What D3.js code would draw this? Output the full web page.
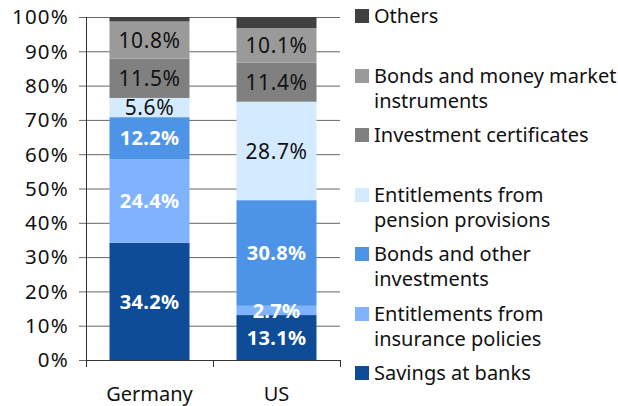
<!DOCTYPE html>
<html>
<head>
<meta charset="utf-8">
<script src="https://cdn.jsdelivr.net/npm/d3@7"></script>
<style>
  body { margin: 0; background: #fff; }
  text { font-family: "Noto Sans", "DejaVu Sans", sans-serif; }
</style>
</head>
<body>
<div id="chart"></div>
<script>
// categories and series, bottom to top
const countries = ["Germany", "US"];
const seriesNames = [
  "Savings at banks",
  "Entitlements from insurance policies",
  "Bonds and other investments",
  "Entitlements from pension provisions",
  "Investment certificates",
  "Bonds and money market instruments",
  "Others"
];
const germany = [34.2, 24.4, 12.2, 5.6, 11.5, 10.8, 1.3];
const us = [13.1, 2.7, 30.8, 28.7, 11.4, 10.1, 3.2];
const yTicks = [0, 10, 20, 30, 40, 50, 60, 70, 80, 90, 100];

// legend lines (wrapped like the original)
const legendLines = [
  ["Others"],
  ["Bonds and money market", "instruments"],
  ["Investment certificates"],
  ["Entitlements from", "pension provisions"],
  ["Bonds and other", "investments"],
  ["Entitlements from", "insurance policies"],
  ["Savings at banks"]
];

const colors = ["#0f4c97", "#80b3ff", "#4d94e6", "#d4eaff", "#808080", "#9a9a9a", "#404040"];
const labelColors = ["#fff", "#fff", "#fff", "#111", "#111", "#111", null];

const width = 618, height = 406;
const margin = { left: 86, right: 278, top: 17, bottom: 46 };

const svg = d3.select("#chart").append("svg")
  .attr("width", width)
  .attr("height", height);

const x = d3.scaleBand()
  .domain(countries)
  .range([margin.left, width - margin.right])
  .paddingInner(0.37)
  .paddingOuter(0.185);

const y = d3.scaleLinear()
  .domain([0, 100])
  .range([height - margin.bottom, margin.top]);

// gridlines
svg.append("g")
  .selectAll("line")
  .data(yTicks)
  .join("line")
  .attr("x1", margin.left - 7)
  .attr("x2", width - margin.right)
  .attr("y1", d => y(d) + 0.5)
  .attr("y2", d => y(d) + 0.5)
  .attr("stroke", "#666")
  .attr("stroke-width", 1);

// y labels
svg.append("g")
  .selectAll("text")
  .data(yTicks)
  .join("text")
  .attr("x", margin.left - 17)
  .attr("y", d => y(d))
  .attr("dy", "0.36em")
  .attr("text-anchor", "end")
  .attr("font-size", 20.5)
  .attr("letter-spacing", 1.2)
  .attr("fill", "#111")
  .text(d => d + "%");

// stacked data
const rows = countries.map((c, i) => {
  const vals = i === 0 ? germany : us;
  const o = { country: c };
  seriesNames.forEach((s, j) => o[s] = vals[j]);
  return o;
});
const stack = d3.stack().keys(seriesNames)(rows);

const layer = svg.append("g")
  .selectAll("g")
  .data(stack)
  .join("g")
  .attr("fill", (d, i) => colors[i]);

layer.selectAll("rect")
  .data(d => d)
  .join("rect")
  .attr("x", d => x(d.data.country))
  .attr("width", x.bandwidth())
  .attr("y", d => y(d[1]))
  .attr("height", d => y(d[0]) - y(d[1]));

// value labels
stack.forEach((s, i) => {
  if (!labelColors[i]) return;
  const white = labelColors[i] === "#fff";
  svg.append("g")
    .selectAll("text")
    .data(s)
    .join("text")
    .attr("x", d => x(d.data.country) + x.bandwidth() / 2)
    .attr("y", d => (y(d[0]) + y(d[1])) / 2)
    .attr("dy", "0.36em")
    .attr("text-anchor", "middle")
    .attr("font-size", white ? 20 : 21)
    .attr("font-weight", white ? "bold" : "normal")
    .attr("letter-spacing", white ? 0.3 : 0.6)
    .attr("fill", labelColors[i])
    .text(d => (d[1] - d[0]).toFixed(1) + "%");
});

// axes lines
svg.append("line")
  .attr("x1", margin.left + 0.5).attr("x2", margin.left + 0.5)
  .attr("y1", margin.top).attr("y2", y(0) + 7)
  .attr("stroke", "#333");

const boundaries = [margin.left, margin.left + (width - margin.right - margin.left) / 2, width - margin.right];
svg.append("g")
  .selectAll("line")
  .data(boundaries)
  .join("line")
  .attr("x1", d => d + 0.5).attr("x2", d => d + 0.5)
  .attr("y1", y(0)).attr("y2", y(0) + 7)
  .attr("stroke", "#333");

svg.append("line")
  .attr("x1", margin.left).attr("x2", width - margin.right)
  .attr("y1", y(0) + 0.5).attr("y2", y(0) + 0.5)
  .attr("stroke", "#333");

// category labels
svg.append("g")
  .selectAll("text")
  .data(countries)
  .join("text")
  .attr("x", d => x(d) + x.bandwidth() / 2)
  .attr("y", 393.5)
  .attr("dy", "0.35em")
  .attr("text-anchor", "middle")
  .attr("font-size", 20)
  .attr("fill", "#111")
  .text(d => d);

// legend
const legendY = [16, 76, 135, 195, 254, 314, 373];
const legend = svg.append("g")
  .selectAll("g")
  .data(legendLines)
  .join("g")
  .attr("transform", (d, i) => `translate(355,${legendY[i]})`);

legend.append("rect")
  .attr("x", 0).attr("y", -7)
  .attr("width", 14).attr("height", 14)
  .attr("fill", (d, i) => colors[colors.length - 1 - i]);

legend.selectAll("text")
  .data(d => d)
  .join("text")
  .attr("x", 19)
  .attr("y", (d, k) => k * 25)
  .attr("dy", "0.35em")
  .attr("font-size", 20)
  .attr("fill", "#111")
  .text(d => d);
</script>
</body>
</html>
